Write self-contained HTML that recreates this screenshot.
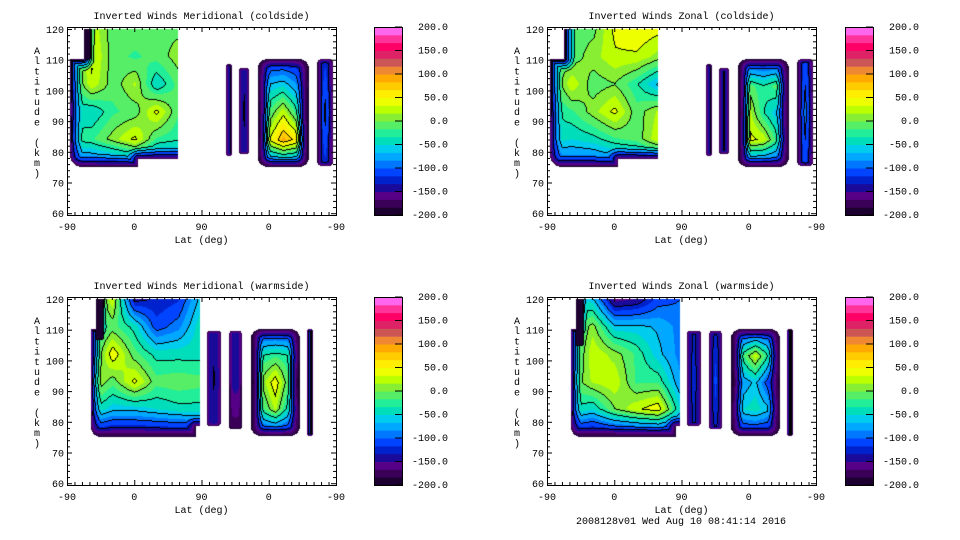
<!DOCTYPE html>
<html><head><meta charset="utf-8">
<style>
html,body{margin:0;padding:0;background:#fff;}
#root{position:relative;width:960px;height:540px;overflow:hidden;background:#fff;font-family:"Liberation Mono",monospace;}
canvas{position:absolute;}
svg{position:absolute;left:0;top:0;}
</style></head>
<body>
<div id="root">
<svg id="ov" width="960" height="540"></svg>
</div>
<script>
// ---- colour scale ----
const levelMin = -200, levelMax = 200;
const bandColors = ["#1c0030","#3a0058","#560088","#1a0a9a","#0022cc","#0044ff","#0077ff","#00a8ff","#00ccee","#00ddbb","#22ee99","#55ee66","#88ee33","#bbff00","#eeff00","#ffee00","#ffcc00","#ffaa00","#ee8833","#cc5555","#dd2266","#ff0066","#ff3399","#ff66ee"];
const cbTickLabels = ["200.0","150.0","100.0","50.0","0.0","-50.0","-100.0","-150.0","-200.0"];
const cbTickValues = [200,150,100,50,0,-50,-100,-150,-200];
const yTicks = [60,70,80,90,100,110,120];
const xTickLabels = ["-90","0","90","0","-90"];
const xTickPos = [0,90,180,270,360];

// ---- Meridional coldside ----
const mcA = [[-30,30,-10,-5,-5,-5],[-30,40,-10,-20,-10,10],[-40,30,-10,20,-50,-10],[-40,-50,-20,-10,40,-15],[-30,-20,10,40,-20,-30],[-110,-110,-110,-100,-100,-100]];
const mcB = [[-140]];
const mcC = [[-150,-135,-150],[-150,-130,-150],[-150,-135,-150]];
const mcD = [[-170,-130,-130,-130,-170],[-170,-60,-50,-80,-170],[-200,-10,30,-20,-200],[-200,40,90,60,-200],[-170,-130,-130,-130,-170]];
const mcE = [[-150,-120,-150],[-150,-90,-150],[-150,-120,-150]];
// ---- Zonal coldside ----
const zcA = [[-20,-10,-5,40,50,40],[-20,-10,10,30,30,10],[-30,30,-10,0,-30,-70],[-40,-20,10,40,-10,20],[-40,-50,-40,-20,-10,30],[-110,-110,-110,-100,-100,-100]];
const zcB = [[-140]];
const zcC = [[-150,-130,-150],[-150,-130,-150],[-150,-130,-150]];
const zcD = [[-170,-130,-130,-130,-170],[-200,-10,-30,-10,-170],[-220,20,-30,-60,-170],[-220,40,30,-20,-170],[-170,-130,-130,-130,-170]];
const zcE = [[-150,-110,-150],[-150,-85,-150],[-150,-110,-150]];
// ---- Meridional warmside ----
const mwA = [[-40,30,-140,-130,-120,-60],[-40,-10,-40,-110,-90,-40],[-40,50,-10,-40,-40,-40],[30,-10,40,-10,-5,-10],[-30,-60,-60,-50,-40,-40],[-150,-160,-160,-160,-160,-150]];
const mwB = [[-150,-140,-150],[-150,-130,-150],[-150,-140,-150]];
const mwC = [[-150,-140,-150],[-150,-140,-150],[-175,-175,-175]];
const mwD = [[-170,-130,-130,-130,-170],[-200,-30,-20,-30,-170],[-220,10,50,-10,-220],[-200,-20,20,-40,-170],[-170,-140,-140,-140,-170]];
const mwE = [[-120]];
// ---- Zonal warmside ----
const zwA = [[-40,-60,-160,-150,-110,-100],[-40,10,-60,-60,-70,-90],[-40,30,10,-20,-60,-90],[-20,20,30,-20,-20,-80],[-30,-50,0,30,50,-50],[-150,-160,-160,-160,-160,-150]];
const zwB = [[-145,-130,-145],[-145,-125,-145],[-145,-130,-145]];
const zwC = [[-145,-130,-145],[-145,-110,-145],[-145,-130,-145]];
const zwD = [[-170,-130,-130,-130,-170],[-200,-20,30,-30,-170],[-200,-80,-60,-110,-170],[-170,-50,-40,-60,-170],[-170,-140,-140,-140,-170]];
const zwE = [[-130]];
const blackStrip = [[-260]];

// block extents in data units [u0,u1,zBottom,zTop]
const coldExtA=[4,149,75.1,120], coldExtB=[213,221,78.7,108.6], coldExtC=[230,244,79.3,107.3], coldExtD=[255,324,75.1,110.2], coldExtE=[335,356,75.4,110.2];
const warmExtA=[32,178,75.1,120], warmExtB=[187,206,78.7,109.6], warmExtC=[217,234,77.5,109.6], warmExtD=[246,312,75.4,110.2], warmExtE=[321,329,75.4,110.2];

function blk(ext,grid,edges,F,notches){return {ext:ext,grid:grid,edges:edges,F:F,notches:notches||[]};}
const panels = [
 {title:"Inverted Winds Meridional (coldside)",ox:0,oy:0,cbx:374,lbx:448,name:"meridional-coldside",
  blocks:[blk(coldExtA,mcA,"LB",12,[[0,23,110.2,125],[95,200,60,77.7]]),blk([23,31,110.2,120],blackStrip,"",0),
   blk(coldExtB,mcB,"LRTB",2),blk(coldExtC,mcC,"LRTB",3),blk(coldExtD,mcD,"LRTB",10),blk(coldExtE,mcE,"LRTB",4)]},
 {title:"Inverted Winds Zonal (coldside)",ox:480,oy:0,cbx:845,lbx:919,name:"zonal-coldside",
  blocks:[blk(coldExtA,zcA,"LB",12,[[0,23,110.2,125],[95,200,60,77.7]]),
   blk(coldExtB,zcB,"LRTB",2),blk(coldExtC,zcC,"LRTB",3),blk(coldExtD,zcD,"LRTB",10),blk(coldExtE,zcE,"LRTB",4)]},
 {title:"Inverted Winds Meridional (warmside)",ox:0,oy:270,cbx:374,lbx:448,name:"meridional-warmside",
  blocks:[blk(warmExtA,mwA,"LB",10,[[0,40,110.2,125],[172,200,60,78.5]]),blk([39,48,107,120],blackStrip,"",0),
   blk(warmExtB,mwB,"LRTB",3),blk(warmExtC,mwC,"LRTB",3),blk(warmExtD,mwD,"LRTB",10),blk(warmExtE,mwE,"LRTB",2)]},
 {title:"Inverted Winds Zonal (warmside)",ox:480,oy:270,cbx:845,lbx:919,name:"zonal-warmside",
  blocks:[blk(warmExtA,zwA,"LB",10,[[0,40,110.2,125],[172,200,60,78.5]]),blk([39,48,105,120],blackStrip,"",0),
   blk(warmExtB,zwB,"LRTB",3),blk(warmExtC,zwC,"LRTB",3),blk(warmExtD,zwD,"LRTB",10),blk(warmExtE,zwE,"LRTB",2)]}
];

const PW=269, PH=188, FX=67, FY=27;
const sx = PW/360;
function yOf(z){return 2 + (120-z)*3.07;}
function xOf(u){return u*sx;}
const NB = bandColors.length, step=(levelMax-levelMin)/NB;
function hex(c){return [parseInt(c.substr(1,2),16),parseInt(c.substr(3,2),16),parseInt(c.substr(5,2),16)];}
const rgb = bandColors.map(hex);

function rectDist(x,y,x0,y0,x1,y1){const dx=Math.max(x0-x,0,x-x1),dy=Math.max(y0-y,0,y-y1);return Math.hypot(dx,dy);}
function sampleGrid(g,fx,fy){
  const ny=g.length,nx=g[0].length;
  if(nx===1&&ny===1) return g[0][0];
  const gx=Math.min(Math.max(fx,0),1)*(nx-1), gy=Math.min(Math.max(fy,0),1)*(ny-1);
  const i=Math.min(Math.floor(gx),Math.max(nx-2,0)), j=Math.min(Math.floor(gy),Math.max(ny-2,0));
  const ax=nx>1?gx-i:0, ay=ny>1?gy-j:0;
  const r0=g[j], r1=g[Math.min(j+1,ny-1)];
  const a=r0[i]*(1-ax)+r0[Math.min(i+1,nx-1)]*ax, b=r1[i]*(1-ax)+r1[Math.min(i+1,nx-1)]*ax;
  return a*(1-ay)+b*ay;
}
function valueAt(blocks,x,y){
  let val=null;
  for(const b of blocks){
    const bx0=xOf(b.ext[0]),bx1=xOf(b.ext[1]),by0=yOf(b.ext[3]),by1=yOf(b.ext[2]);
    if(x<bx0||x>bx1||y<by0||y>by1) continue;
    const F=b.F, e=b.edges;
    let t=1;
    if(F>0){
      const ix0=bx0+(e.includes("L")?F:0), ix1=bx1-(e.includes("R")?F:0);
      const iy0=by0+(e.includes("T")?F:0), iy1=by1-(e.includes("B")?F:0);
      const d=rectDist(x,y,ix0,iy0,Math.max(ix0,ix1),Math.max(iy0,iy1));
      if(d>F) continue;
      t=1-d/F;
    }
    let out=false;
    for(const n of b.notches){
      const nx0=xOf(n[0]),nx1=xOf(n[1]),ny0=yOf(n[3]),ny1=yOf(n[2]);
      const dn=rectDist(x,y,nx0,ny0,nx1,ny1);
      if(dn<=0){out=true;break;}
      if(F>0) t=Math.min(t,dn/F);
    }
    if(out) continue;
    let v=sampleGrid(b.grid,(x-bx0)/(bx1-bx0),(y-by0)/(by1-by0));
    if(F>0) v=-195+(v+195)*Math.pow(t,0.6);
    val=v;
  }
  return val;
}

const root=document.getElementById('root');
const ov=document.getElementById('ov');
const NS="http://www.w3.org/2000/svg";
function el(tag,attrs,parent){const e=document.createElementNS(NS,tag);for(const k in attrs)e.setAttribute(k,attrs[k]);(parent||ov).appendChild(e);return e;}
function txt(s,x,y,anchor,parent){const t=el('text',{x:x,y:y,'text-anchor':anchor||'start','font-family':'Liberation Mono, monospace','font-size':'10',fill:'#000'},parent);t.textContent=s;return t;}

panels.forEach(function(p){
  const cv=document.createElement('canvas');
  cv.width=PW;cv.height=PH;
  cv.style.left=(p.ox+FX)+'px';cv.style.top=(p.oy+FY)+'px';
  
  
  root.insertBefore(cv,ov);
  const ctx=cv.getContext('2d');
  const img=ctx.createImageData(PW,PH);
  const band=new Int16Array(PW*PH);
  for(let y=0;y<PH;y++)for(let x=0;x<PW;x++){
    const v=valueAt(p.blocks,x+0.5,y+0.5);
    let bi=-1;
    if(v!==null){bi=Math.floor((v-levelMin)/step);if(bi<0)bi=0;if(bi>NB-1)bi=NB-1;}
    band[y*PW+x]=bi;
  }
  for(let y=0;y<PH;y++)for(let x=0;x<PW;x++){
    const k=y*PW+x,bi=band[k],o=k*4;
    if(bi<0){img.data[o]=255;img.data[o+1]=255;img.data[o+2]=255;img.data[o+3]=255;continue;}
    let line=false;
    const lb=bi>>1;
    if(x+1<PW&&band[k+1]>=0&&(band[k+1]>>1)<lb)line=true;
    if(x>0&&band[k-1]>=0&&(band[k-1]>>1)<lb)line=true;
    if(y+1<PH&&band[k+PW]>=0&&(band[k+PW]>>1)<lb)line=true;
    if(y>0&&band[k-PW]>=0&&(band[k-PW]>>1)<lb)line=true;
    if(bi<3) line=false;
    const c=line?[0,0,0]:rgb[bi];
    img.data[o]=c[0];img.data[o+1]=c[1];img.data[o+2]=c[2];img.data[o+3]=255;
  }
  ctx.putImageData(img,0,0);

  const g=el('g',{});
  const ax=el('g',{},g);
  const X0=p.ox+FX,Y0=p.oy+FY;
  el('rect',{x:X0+0.5,y:Y0+0.5,width:PW,height:PH,fill:'none',stroke:'#000','stroke-width':1},ax);
  for(let z=60;z<=120;z+=2){
    const yy=Y0+yOf(z)+0.5, major=(z%10===0), L=major?5:3;
    el('line',{x1:X0,y1:yy,x2:X0+L,y2:yy,stroke:'#000','stroke-width':1},ax);
    el('line',{x1:X0+PW,y1:yy,x2:X0+PW-L,y2:yy,stroke:'#000','stroke-width':1},ax);
  }
  yTicks.forEach(function(z){const t=txt(String(z),X0-3,Y0+yOf(z)+4,'end',ax);});
  for(let u=0;u<=360;u+=10){
    const xx=X0+xOf(u)+0.5, major=(u%90===0), L=major?5:3;
    el('line',{x1:xx,y1:Y0+PH,x2:xx,y2:Y0+PH-L,stroke:'#000','stroke-width':1},ax);
    el('line',{x1:xx,y1:Y0,x2:xx,y2:Y0+L,stroke:'#000','stroke-width':1},ax);
  }
  xTickLabels.forEach(function(s,i){const t=txt(s,X0+xOf(xTickPos[i]),Y0+PH+15,'middle',ax);});
  const xt=txt('Lat (deg)',X0+xOf(180),Y0+PH+28,'middle',ax);
  
  const tt=txt(p.title,X0+xOf(180),Y0-8,'middle',g);
  
  const yt=el('g',{},ax);
  "Altitude (km)".split("").forEach(function(ch,i){ if(ch!==' ') txt(ch,p.ox+37,p.oy+54+i*10.2,'middle',yt); });
  const cb=el('g',{},g);
  const CBW=28, bh=PH/NB;
  for(let i=0;i<NB;i++){
    const r=el('rect',{x:p.cbx,y:Y0+PH-(i+1)*bh,width:CBW,height:bh+0.5,fill:bandColors[i]},cb);
    
  }
  el('rect',{x:p.cbx+0.5,y:Y0+0.5,width:CBW,height:PH,fill:'none',stroke:'#000','stroke-width':1},cb);
  cbTickValues.forEach(function(v,i){
    const yy=Y0+(levelMax-v)/(levelMax-levelMin)*PH;
    el('line',{x1:p.cbx+CBW-7,y1:yy,x2:p.cbx+CBW,y2:yy,stroke:'#000','stroke-width':1},cb);
    const t=txt(cbTickLabels[i],p.lbx,yy+3,'end',cb);
    
  });
});
const ft=txt('2008128v01 Wed Aug 10 08:41:14 2016',681,524,'middle');


</script>
</body></html>
